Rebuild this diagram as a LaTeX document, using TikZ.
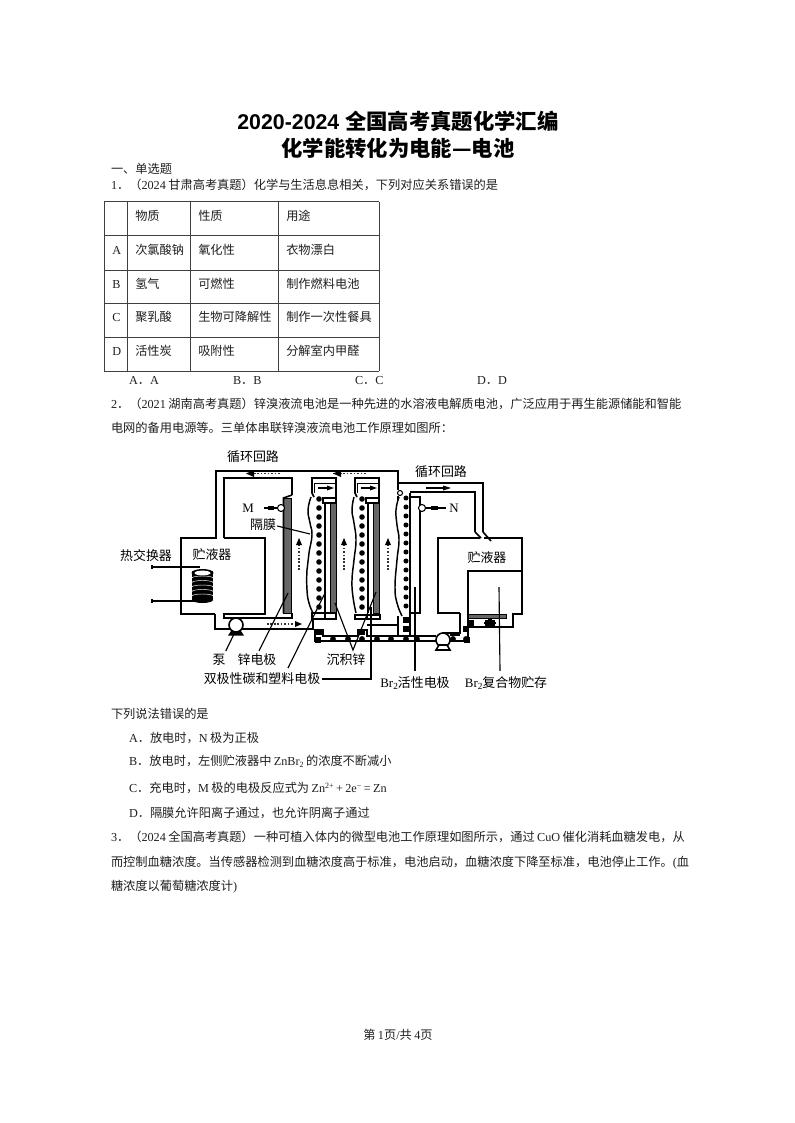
\documentclass[tikz,border=0pt]{standalone}
\usepackage{fontspec}
\setmainfont{Liberation Serif}
\setsansfont{Liberation Sans}
\newfontfamily\cjk{Noto Sans CJK SC}
\usetikzlibrary{arrows.meta}
\newcommand\Z[1]{{\cjk #1}}
\newcommand\gp{\kern1.8pt\relax}
\newdimen\pxu \pxu=0.75pt
\colorlet{ink}{black!88}
\tikzset{
  x=0.75pt,y=-0.75pt,
  tl/.style={anchor=base west,inner sep=0pt,outer sep=0pt,font=\fontsize{9.16pt}{11pt}\selectfont,text=ink},
  cell/.style={anchor=base west,inner sep=0pt,font=\fontsize{9.16pt}{11pt}\selectfont,text=ink},
  titlet/.style={anchor=base,inner sep=0pt,font=\fontsize{16pt}{18pt}\selectfont\sffamily\bfseries},
  lab/.style={anchor=center,inner sep=0pt,font=\fontsize{9.7pt}{11pt}\selectfont},
  wall/.style={draw=black,line width=1.2pt,line join=miter},
  thin wall/.style={draw=black,line width=0.8pt},
  leader/.style={draw=black,line width=0.85pt},
  tbl/.style={draw=black!75,line width=0.75pt},
  flow/.style={draw=black!80,line width=0.8pt,dash pattern=on 1.2pt off 1.4pt},
  bigdot/.style={fill=black,draw=none,circle,minimum size=4.4pt,inner sep=0pt},
  sqdot/.style={fill=black,draw=none,minimum size=4.5pt,inner sep=0pt},
  wavy/.style={draw=black,line width=1.1pt},
  elec/.style={fill=black!60,draw=black,line width=0.5pt},
}
\newcommand\tline[5]{\node[tl] (#1) at (#2,#3) {\hbox to #4\pxu{#5\hss}};}
\newcommand\uparr[2]{%
  \path[flow] (#1,#2+32) -- (#1,#2+6);
  \fill[black] (#1-3,#2+7) -- (#1,#2) -- (#1+3,#2+7) -- cycle;}
\begin{document}
\begin{tikzpicture}
\path[use as bounding box,fill=white] (0,0) rectangle (794,1123);

% titles
\node[titlet] (t1) at (398,130) {2020-2024 \Z{全国高考真题化学汇编}};
\node[titlet] (t2) at (398,157) {\Z{化学能转化为电能—电池}};
\node[tl] (sec) at (111,174) {\Z{一、单选题}};
\tline{q1}{111}{190}{386}{1\Z{．（}2024\gp\Z{甘肃高考真题）化学与生活息息相关，下列对应关系错误的是}}

% table
\foreach \xx in {104,127,190,278,379} \draw[tbl] (\xx,202) -- (\xx,371);
\foreach \yy in {202,236,270,303,337,371} \draw[tbl] (104,\yy) -- (379,\yy);
\foreach \nm/\xx/\yy/\tx in {
 a1/135/220/物质,a2/198/220/性质,a3/286/220/用途,
 b1/135/254/次氯酸钠,b2/198/254/氧化性,b3/286/254/衣物漂白,
 c1/135/288/氢气,c2/198/288/可燃性,c3/286/288/制作燃料电池,
 d1/135/321/聚乳酸,d2/198/321/生物可降解性,d3/286/321/制作一次性餐具,
 e1/135/355/活性炭,e2/198/355/吸附性,e3/286/355/分解室内甲醛}
 \node[cell] (\nm) at (\xx,\yy) {\Z{\tx}};
\foreach \nm/\yy/\tx in {ra/254/A,rb/288/B,rc/321/C,rd/355/D}
 \node[cell] (\nm) at (112,\yy) {\tx};
\node[tl] (o1) at (129,384) {A\Z{．}A};
\node[tl] (o2) at (233,384) {B\Z{．}B};
\node[tl] (o3) at (355,384) {C\Z{．}C};
\node[tl] (o4) at (477,384) {D\Z{．}D};

\tline{q2a}{111}{408}{570}{2\Z{．（}2021\gp\Z{湖南高考真题）锌溴液流电池是一种先进的水溶液电解质电池，广泛应用于再生能源储能和智能}}
\tline{q2b}{111}{432}{338}{\Z{电网的备用电源等。三单体串联锌溴液流电池工作原理如图所：}}

% ===== apparatus =====
% left reservoir and outer loop
\draw[wall] (215,614) -- (181,614) -- (181,538) -- (216,538) -- (216,471) -- (398,471) -- (398,483) -- (483,483) -- (483,532);
\draw[wall] (224,538) -- (265,538) -- (265,614) -- (224,614) -- (224,618) -- (292,618) -- (292,613);
\draw[wall] (224,538) -- (224,478) -- (292,478) -- (292,495);
\draw[wall] (215,614) -- (215,629) -- (313,629) -- (313,619);
% first electrode
\draw[elec] (283.5,498) rectangle (291,613);
\draw[wall] (283.5,613) -- (283.5,498) -- (292,495);
% cell caps
\draw[wall] (336,497) -- (336,478) -- (312,478) -- (312,493) -- (314,497);
\draw[wall] (379,497) -- (379,478) -- (355,478) -- (355,493) -- (357,497);
\draw[thin wall] (314.5,493) -- (314.5,483.5) -- (335,483.5);
\draw[thin wall] (357.5,493) -- (357.5,483.5) -- (378,483.5);
% electrodes 2 and 3
\fill[white] (325,497) rectangle (336,613);
\draw[elec] (330,503) rectangle (336,613);
\draw[thin wall] (325,503) -- (325,613);
\draw[wall] (323,498) -- (336,498) -- (336,503) -- (323,503) -- cycle;
\draw[elec] (373,503) rectangle (379,613);
\draw[thin wall] (368,503) -- (368,613);
\draw[wall] (366,498) -- (379,498) -- (379,503) -- (366,503) -- cycle;
% bottom caps
\draw[wall] (312,613) -- (336,613) -- (336,619) -- (312,619) -- cycle;
\draw[wall] (355,615) -- (380,615) -- (380,619) -- (355,619) -- cycle;
\draw[thin wall] (325,613) -- (325,619);
\draw[thin wall] (367,615) -- (367,619);
% membranes
\draw[wavy] plot[smooth,tension=.8] coordinates {(311,497) (308,510) (310,523) (312,535) (309,553) (307,570) (307,590) (309,603) (313,613)};
\draw[wavy] plot[smooth,tension=.8] coordinates {(354,497) (352,510) (354,523) (356,540) (354,560) (352,580) (353,597) (356,613)};
\draw[wavy] plot[smooth,tension=.8] coordinates {(399,497) (396,510) (397,525) (399,540) (397,560) (395,587) (397,603) (402,616)};
% dots in the cells
\foreach \yy in {499,508,...,610} {
  \node[bigdot,minimum size=4.2pt] (d1\yy) at (319,\yy) {};
  \node[bigdot,minimum size=4.2pt] (d2\yy) at (362,\yy) {};
}
\foreach \yy in {498,507,...,606} \node[bigdot,minimum size=3.8pt] (d3\yy) at (406,\yy) {};
% right electrode
\draw[wall] (410,493) -- (410,497) -- (420,497) -- (420,613) -- (410,613);
\draw[thin wall] (410,497) -- (410,613);
% right loop
\draw[wall] (410,492) -- (475,492) -- (475,532);
\draw[wall] (398,483) -- (398,490);
\draw[thin wall] (400,493) circle (2.5);
\draw[wall] (398,500) -- (398,496);
% right reservoir
\draw[wall] (460,613) -- (438,613) -- (438,538) -- (480,538);
\draw[wall] (484,538) -- (522,538) -- (522,614) -- (513,614) -- (513,627) -- (468,627) -- (468,571) -- (522,571);
\draw[wall] (475,532) -- (481,538);
\draw[wall] (483,532) -- (491,541);
\draw[wall] (468,571) -- (468,614);
\draw[elec] (468,614.5) rectangle (506,618);
\draw[wall] (460,613) -- (460,633) -- (442,633);
% bottom manifold
\draw[wall] (315,629) -- (315,641) -- (436,641);
\draw[wall] (323,629) -- (323,636) -- (358,636) -- (358,630) -- (367,630) -- (367,636) -- (436,636);
\draw[wall] (367,625) -- (398,625) -- (398,616);
\draw[wall] (398,625) -- (398,636);
\draw[wall] (410,613) -- (410,636);
\draw[wall] (450,641) -- (468,641) -- (468,627);
\draw[wall] (450,635) -- (460,635);
\foreach \xx in {333,348,362,377,391,406,417,453,466}
  \node[bigdot] (m\xx) at (\xx,639) {};
\node[sqdot] (s1) at (319,632) {};
\node[sqdot] (s2) at (318,640) {};
\node[sqdot] (s3) at (362,632) {};
\node[sqdot] (s4) at (406,620) {};
\node[sqdot] (s5) at (406,629) {};
\node[sqdot] (s6) at (466,629) {};
\node[sqdot] (s7) at (471,623) {};
\node[sqdot] (s8) at (467,640) {};
% pumps
\draw[wall,fill=white] (236,625) circle (7);
\fill[black] (228,635.5) -- (231,631) -- (241,631) -- (244,635.5) -- cycle;
\draw[wall,fill=white] (443,640) circle (7);
\draw[wall,fill=white] (436,650) -- (439,645) -- (447,645) -- (450,650) -- cycle;
% valve
\draw[thin wall] (484,623) -- (496,623);
\draw[thin wall] (488,620) -- (492,620) (488,626) -- (492,626);
\draw[thin wall] (486,621) rectangle (494,625);
% coil
\draw[wall] (152,567) -- (200,567);
\draw[wall] (152,601) -- (200,601);
\draw[wall] (152,565) -- (152,569) (152,599) -- (152,603);
\fill[black] (192,571) rectangle (213,600);
\fill[black] (202.5,600) ellipse (10.5 and 3);
\fill[black] (202.5,573) ellipse (11 and 4);
\fill[white] (202.5,573) ellipse (8 and 2.4);
\foreach \yy in {578,582.5,...,600} \draw[white,line width=0.35pt] (192,\yy) arc[start angle=180,end angle=360,x radius=10.5,y radius=2];
% M and N terminals
\draw[thin wall,fill=white] (281,508) circle (3.5);
\draw[thin wall] (277,508) -- (264,508);
\fill[black] (268,505.5) rectangle (274,510);
\draw[thin wall,fill=white] (422,508) circle (3.5);
\draw[thin wall] (426,508) -- (446,508);
\fill[black] (431,505.5) rectangle (438,510);
% flow arrows
\path[flow] (247,473.5) -- (280,473.5);
\fill[black] (254,470) -- (246,473.5) -- (254,477) -- cycle;
\path[flow] (333,473.5) -- (367,473.5);
\fill[black] (341,470) -- (333,473.5) -- (341,477) -- cycle;
\path[flow] (267,624) -- (296,624);
\fill[black] (295,621) -- (302,624) -- (295,627) -- cycle;
\uparr{299}{538}
\uparr{344}{538}
\uparr{388}{538}
\draw[line width=.9pt] (318,488) -- (328,488);
\fill[black] (327,485.5) -- (334,488) -- (327,490.5) -- cycle;
\draw[line width=.9pt] (361,488) -- (371,488);
\fill[black] (370,485.5) -- (377,488) -- (370,490.5) -- cycle;
\draw[line width=.9pt] (426,488) -- (444,488);
\fill[black] (443,485.5) -- (451,488) -- (443,490.5) -- cycle;
% labels
\node[lab] (loopL) at (253,457) {\Z{循环回路}};
\node[lab] (loopR) at (441,472) {\Z{循环回路}};
\node[lab] (hx) at (146,556) {\Z{热交换器}};
\node[lab] (resL) at (212,555) {\Z{贮液器}};
\node[lab] (resR) at (487,558) {\Z{贮液器}};
\node[lab] (M) at (248,508) {M};
\node[lab] (N) at (454,508) {N};
\node[lab] (mem) at (263,525) {\Z{隔膜}};
\node[lab] (pump) at (219,660) {\Z{泵}};
\node[lab] (zn) at (257,660) {\Z{锌电极}};
\node[lab] (dep) at (346,660) {\Z{沉积锌}};
\node[lab] (bip) at (262,679) {\Z{双极性碳和塑料电极}};
\node[lab] (br1) at (415,683) {Br\raisebox{-2pt}{\fontsize{7pt}{8pt}\selectfont 2}\Z{活性电极}};
\node[lab] (br2) at (506,683) {Br\raisebox{-2pt}{\fontsize{7pt}{8pt}\selectfont 2}\Z{复合物贮存}};
% leaders
\coordinate (cmem) at (310,534);
\coordinate (cpump) at (235,632);
\coordinate (czn) at (288,593);
\coordinate (cbip) at (325,593);
\coordinate (cbend) at (371,679);
\coordinate (cdep1) at (335,603);
\coordinate (cdep2) at (376,592);
\coordinate (cv) at (353,650);
\coordinate (cbr1) at (415,587);
\coordinate (cbr2) at (499,587);
\draw[leader] (mem.east) ++(1,1) -- (cmem);
\draw[leader] (pump.north east) ++(0,-3) -- (cpump);
\draw[leader] (zn.north) ++(2,-3) -- (czn);
\draw[leader] (cbip) -- (288,668);
\draw[leader] (bip.east) ++(2,0) -- (cbend) -- (371,607);
\draw[leader] (cdep1) -- (cv) -- (cdep2);
\draw[leader] (br1.north) ++(0,-5) -- (cbr1);
\draw[leader] (br2.north) ++(-6,-5) -- (cbr2);

% ===== below the figure =====
\tline{q2c}{111}{718}{100}{\Z{下列说法错误的是}}
\tline{oa}{129}{742}{131}{A\Z{．放电时，}N\gp\Z{极为正极}}
\tline{ob}{129}{765}{263}{B\Z{．放电时，左侧贮液器中}\gp ZnBr\raisebox{-1.5pt}{\fontsize{6pt}{7pt}\selectfont 2}\gp\Z{的浓度不断减小}}
\tline{oc}{129}{792}{263}{C\Z{．充电时，}M\gp\Z{极的电极反应式为}\gp Zn\raisebox{3pt}{\fontsize{6pt}{7pt}\selectfont 2+}\gp+\gp 2e\raisebox{3pt}{\fontsize{6pt}{7pt}\selectfont −}\gp=\gp Zn}
\tline{od}{129}{817}{243}{D\Z{．隔膜允许阳离子通过，也允许阴离子通过}}
\tline{q3a}{111}{841}{573}{3\Z{．（}2024\gp\Z{全国高考真题）一种可植入体内的微型电池工作原理如图所示，通过}\gp CuO\gp\Z{催化消耗血糖发电，从}}
\tline{q3b}{111}{866}{573}{\Z{而控制血糖浓度。当传感器检测到血糖浓度高于标准，电池启动，血糖浓度下降至标准，电池停止工作。}(\Z{血}}
\tline{q3c}{111}{890}{129}{\Z{糖浓度以葡萄糖浓度计})}
\node[tl,anchor=base] (foot) at (398,1039) {\Z{第}\gp 1\Z{页}/\Z{共}\gp 4\Z{页}};
\end{tikzpicture}
\end{document}
